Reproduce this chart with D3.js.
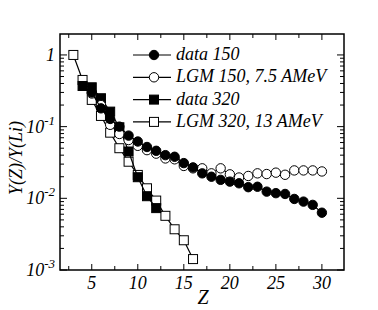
<!DOCTYPE html>
<html>
<head>
<meta charset="utf-8">
<script src="https://cdn.jsdelivr.net/npm/d3@7"></script>
<style>
  body { margin: 0; background: #fff; }
</style>
</head>
<body>
<div id="chart"></div>
<script>
// values
var z150Data = [5, 6, 7, 8, 9, 10, 11, 12, 13, 14, 15, 16, 17, 18, 19, 20, 21, 22, 23, 24, 25, 26, 27, 28, 29, 30];
var data150 = [0.30, 0.18, 0.128, 0.10, 0.075, 0.062, 0.052, 0.046, 0.040, 0.038, 0.031, 0.027, 0.0223, 0.020, 0.0181, 0.0171, 0.0162, 0.0143, 0.0145, 0.0124, 0.0118, 0.0115, 0.0098, 0.0090, 0.0081, 0.0063];
var z150Lgm = [5, 6, 7, 8, 9, 10, 11, 12, 13, 14, 15, 16, 17, 18, 19, 20, 21, 22, 23, 24, 25, 26, 27, 28, 29, 30];
var lgm150 = [0.29, 0.20, 0.106, 0.079, 0.065, 0.054, 0.047, 0.042, 0.036, 0.035, 0.0283, 0.0262, 0.0262, 0.0223, 0.0262, 0.0216, 0.0195, 0.0205, 0.0223, 0.0218, 0.0228, 0.0213, 0.0245, 0.0245, 0.0245, 0.0237];
var z320Data = [4, 5, 6, 7, 8, 9, 10, 11, 12];
var data320 = [0.369, 0.354, 0.249, 0.162, 0.098, 0.045, 0.0197, 0.0107, 0.0073];
var z320Lgm = [3, 4, 5, 6, 7, 8, 9, 10, 11, 12, 13, 14, 15, 16];
var lgm320 = [1.0, 0.448, 0.236, 0.141, 0.0824, 0.050, 0.0324, 0.0212, 0.0138, 0.0093, 0.0057, 0.0037, 0.0026, 0.00142];
var xTicks = [5, 10, 15, 20, 25, 30];
var yTicks = [1, 0.1, 0.01, 0.001];
var legendLabels = ['data 150', 'LGM 150, 7.5 AMeV', 'data 320', 'LGM 320, 13 AMeV'];

var width = 378, height = 310;
var margin = {top: 34, right: 34, bottom: 40, left: 60};
var serif = "'Liberation Serif'";

var svg = d3.select('#chart').append('svg')
  .attr('width', width)
  .attr('height', height);

// every label is Times-like italic
function label(sel, size) {
  return sel.style('font-family', serif).style('font-style', 'italic')
    .style('font-size', size + 'px').attr('fill', '#000');
}

var x = d3.scaleLinear().domain([1.55, 32.4]).range([margin.left, width - margin.right]);
var y = d3.scaleLog().domain([0.001, 1.96]).range([height - margin.bottom, margin.top]);

var x0 = margin.left, x1 = width - margin.right, y0 = height - margin.bottom, y1 = margin.top;

// minor / major ticks, all pointing inward
var xMinor = d3.range(2.5, 32.5, 2.5);
var yMinor = [];
[0.001, 0.01, 0.1, 1].forEach(function(d) {
  for (var k = 2; k <= 9; k++) if (d * k <= 1.96) yMinor.push(d * k);
});

var ticks = svg.append('g').attr('stroke', '#000').attr('stroke-width', 1);
xMinor.forEach(function(v) {
  var major = xTicks.indexOf(v) >= 0;
  var len = major ? 6 : 4;
  ticks.append('line').attr('x1', x(v)).attr('x2', x(v)).attr('y1', y0).attr('y2', y0 - len);
  ticks.append('line').attr('x1', x(v)).attr('x2', x(v)).attr('y1', y1).attr('y2', y1 + len);
});
yTicks.concat(yMinor).forEach(function(v) {
  var major = yTicks.indexOf(v) >= 0;
  var len = major ? 7 : 4;
  ticks.append('line').attr('x1', x0).attr('x2', x0 + len).attr('y1', y(v)).attr('y2', y(v));
  ticks.append('line').attr('x1', x1).attr('x2', x1 - len).attr('y1', y(v)).attr('y2', y(v));
});

// frame
svg.append('rect')
  .attr('x', x0).attr('y', y1)
  .attr('width', x1 - x0).attr('height', y0 - y1)
  .attr('fill', 'none').attr('stroke', '#000').attr('stroke-width', 1.5);

// x tick labels
label(svg.selectAll('.xlab').data(xTicks).enter()
  .append('text')
  .attr('x', function(d) { return x(d); })
  .attr('y', y0 + 19)
  .attr('text-anchor', 'middle'), 18)
  .text(function(d) { return d; });

// y tick labels: 1, 10^-1 ...
label(svg.selectAll('.ylab').data(yTicks).enter()
  .append('text')
  .attr('x', x0 - 5)
  .attr('y', function(d) { return y(d) + 6; })
  .attr('text-anchor', 'end'), 18)
  .each(function(d) {
    var t = d3.select(this);
    if (d === 1) { t.text('1'); return; }
    var e = Math.round(Math.log10(d));
    t.append('tspan').text('10');
    t.append('tspan').attr('dy', -8).style('font-size', '13px').text(e);
  });

// axis titles
label(svg.append('text')
  .attr('x', (x0 + x1) / 2 + 1)
  .attr('y', 304)
  .attr('text-anchor', 'middle'), 20)
  .text('Z');
label(svg.append('text')
  .attr('transform', 'translate(22,158) rotate(-90)')
  .attr('text-anchor', 'middle'), 18)
  .text('Y(Z)/Y(Li)');

var line = d3.line()
  .x(function(d) { return x(d[0]); })
  .y(function(d) { return y(d[1]); });

var series = [
  {z: z320Lgm, v: lgm320, shape: 'square', fill: '#fff'},
  {z: z320Data, v: data320, shape: 'square', fill: '#000'},
  {z: z150Lgm, v: lgm150, shape: 'circle', fill: '#fff'},
  {z: z150Data, v: data150, shape: 'circle', fill: '#000'}
];

function drawMarker(g, shape, fill, cx, cy) {
  if (shape === 'circle') {
    g.append('circle').attr('cx', cx).attr('cy', cy).attr('r', 4.7)
      .attr('fill', fill).attr('stroke', '#000').attr('stroke-width', 1);
  } else {
    g.append('rect').attr('x', cx - 4.5).attr('y', cy - 4.5).attr('width', 9).attr('height', 9)
      .attr('fill', fill).attr('stroke', '#000').attr('stroke-width', 1);
  }
}

series.forEach(function(s) {
  var pts = s.z.map(function(d, i) { return [d, s.v[i]]; });
  var g = svg.append('g');
  g.append('path').attr('d', line(pts)).attr('fill', 'none')
    .attr('stroke', '#000').attr('stroke-width', 1.2);
  pts.forEach(function(p) { drawMarker(g, s.shape, s.fill, x(p[0]), y(p[1])); });
});

// legend
var legendStyle = [
  {shape: 'circle', fill: '#000'},
  {shape: 'circle', fill: '#fff'},
  {shape: 'square', fill: '#000'},
  {shape: 'square', fill: '#fff'}
];
var leg = svg.append('g');
legendLabels.forEach(function(txt, i) {
  var ly = 55 + i * 22.3;
  leg.append('line').attr('x1', 133).attr('x2', 171).attr('y1', ly).attr('y2', ly)
    .attr('stroke', '#000').attr('stroke-width', 1.2);
  drawMarker(leg, legendStyle[i].shape, legendStyle[i].fill, 154, ly);
  label(leg.append('text').attr('x', 176).attr('y', ly + 5), 18)
    .text(txt);
});
</script>
</body>
</html>
